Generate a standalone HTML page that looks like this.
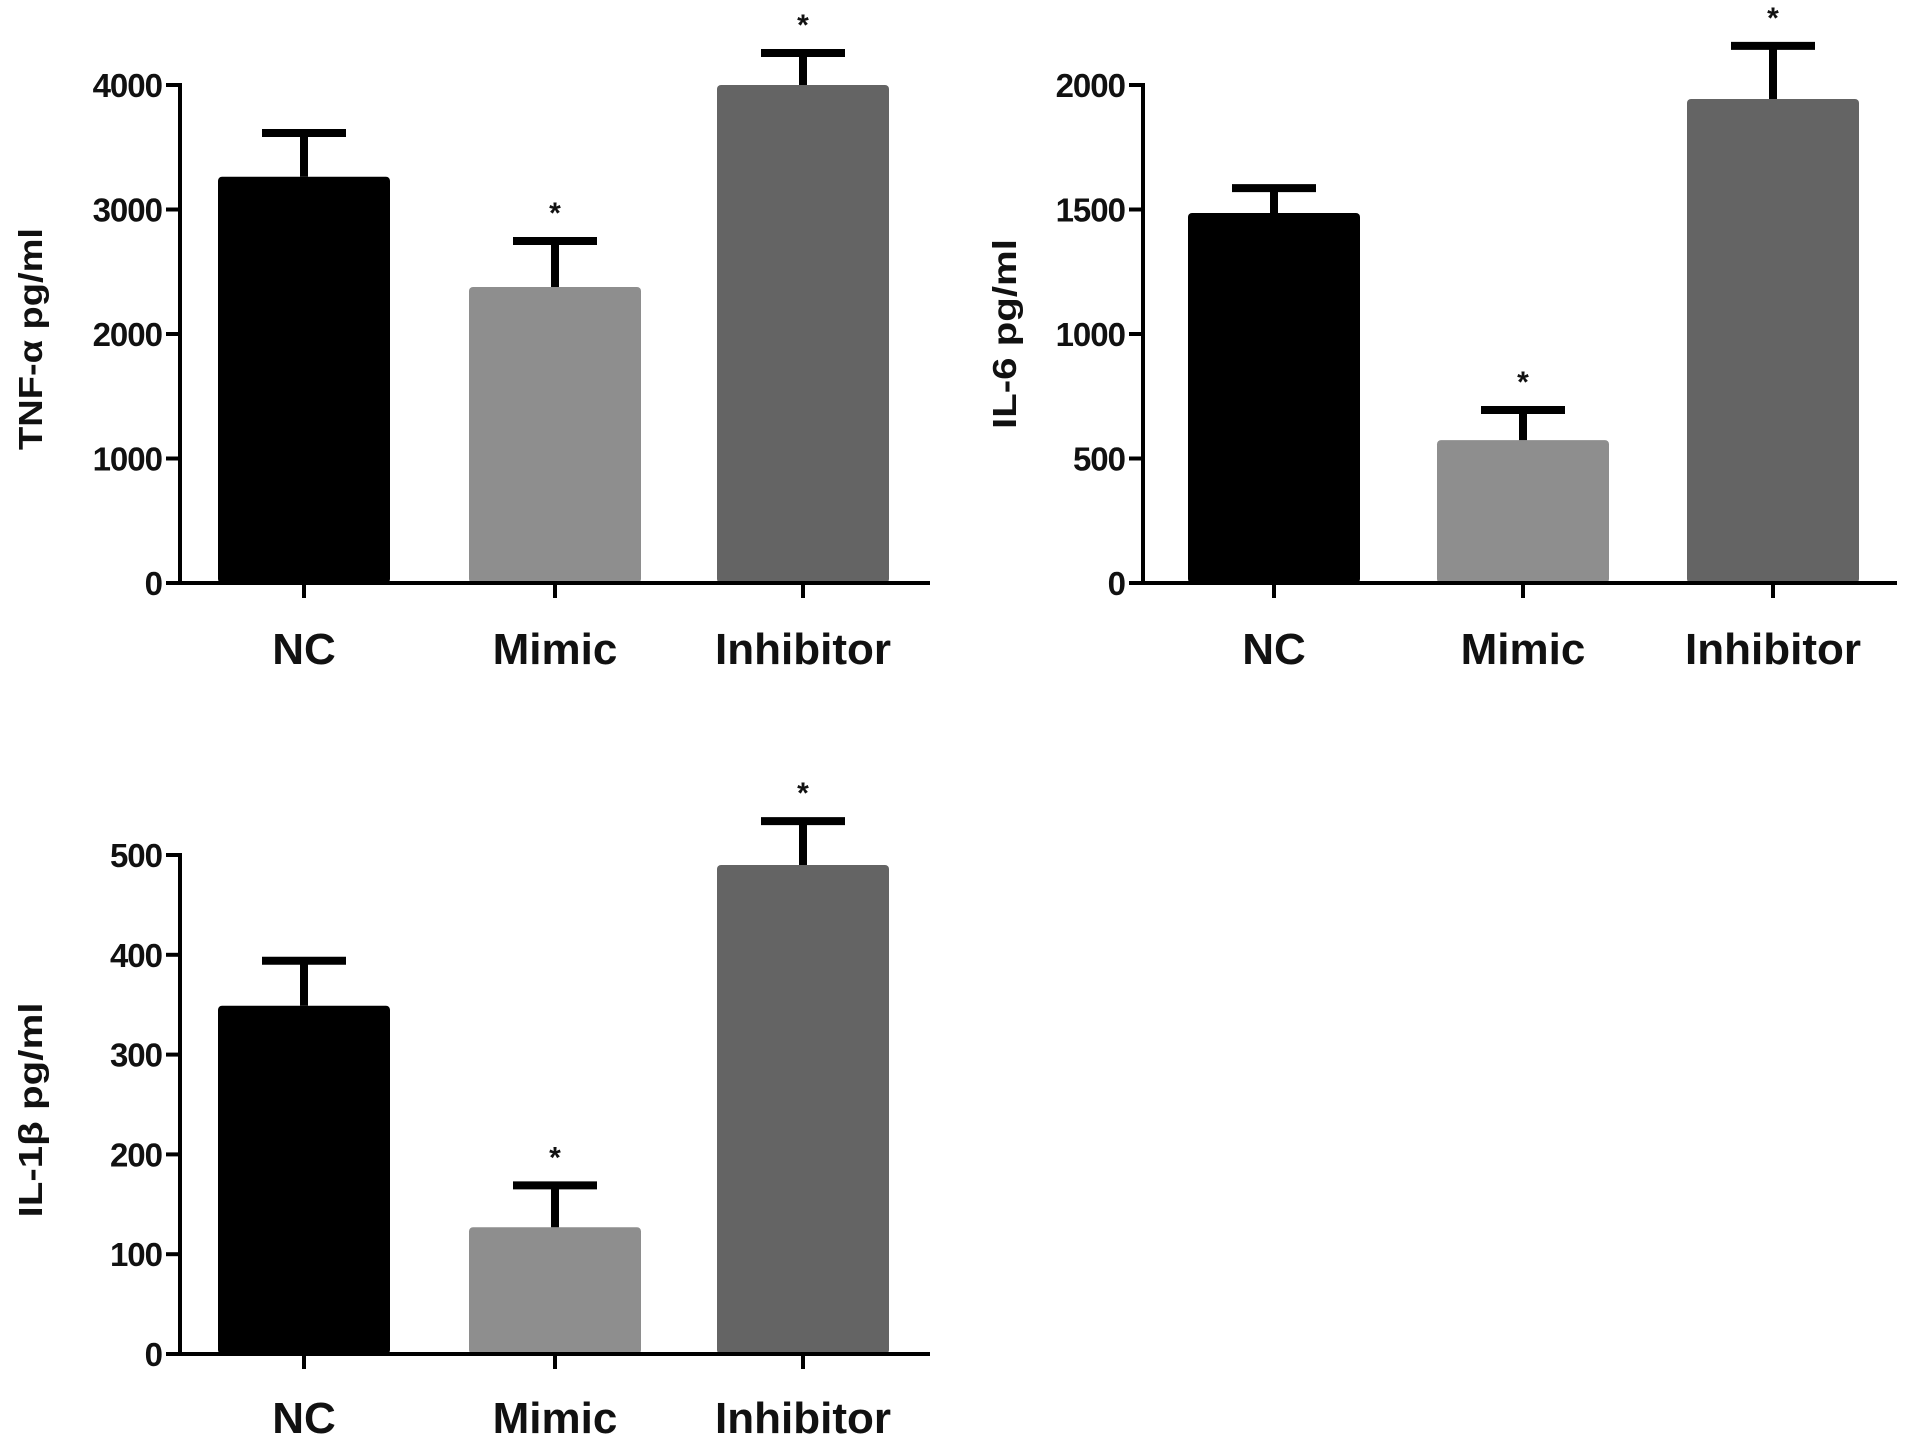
<!DOCTYPE html>
<html><head><meta charset="utf-8"><style>
html,body{margin:0;padding:0;background:#fff;}
svg{display:block;}
text{font-family:"Liberation Sans",Arial,sans-serif;font-weight:bold;fill:#111;}
</style></head><body>
<svg id="chart" width="1913" height="1449" viewBox="0 0 1913 1449" xmlns="http://www.w3.org/2000/svg"></svg>
<script>
const categories = ["NC", "Mimic", "Inhibitor"];
const tnfValues = [3263, 2378, 4000];
const tnfErrors = [351, 369, 257];
const il6Values = [1486, 574, 1944];
const il6Errors = [100, 121, 213];
const il1bValues = [349, 127, 490];
const il1bErrors = [45, 42, 44];
const tnfTicks = [0, 1000, 2000, 3000, 4000];
const il6Ticks = [0, 500, 1000, 1500, 2000];
const il1bTicks = [0, 100, 200, 300, 400, 500];
const significant = [false, true, true];

const barColors = ["#000000", "#8e8e8e", "#646464"];
const NS = "http://www.w3.org/2000/svg";
const svg = document.getElementById("chart");
function mk(tag, attrs, parent) {
  const e = document.createElementNS(NS, tag);
  for (const k in attrs) e.setAttribute(k, attrs[k]);
  (parent || svg).appendChild(e);
  return e;
}

const panels = [
  {key:"tnf", title:"TNF-α pg/ml", vals:tnfValues, errs:tnfErrors, ticks:tnfTicks, max:4000,
   ax:180, y0:583, yTop:85, xEnd:930, cats:[304,555,803], titleX:42, titleY:339, titleLen:222, labelY:664},
  {key:"il6", title:"IL-6 pg/ml", vals:il6Values, errs:il6Errors, ticks:il6Ticks, max:2000,
   ax:1143, y0:583, yTop:85, xEnd:1897, cats:[1274,1523,1773], titleX:1016, titleY:334, titleLen:190, labelY:664},
  {key:"il1b", title:"IL-1β pg/ml", vals:il1bValues, errs:il1bErrors, ticks:il1bTicks, max:500,
   ax:180, y0:1354, yTop:855, xEnd:930, cats:[304,555,803], titleX:42, titleY:1110, titleLen:215, labelY:1433}
];

panels.forEach(p => {
  const g = mk("g", {});
  
  
  const yScale = v => p.y0 - (v / p.max) * (p.y0 - p.yTop);
  const bw = 172;
  p.vals.forEach((v, i) => {
    const cx = p.cats[i];
    const top = yScale(v);
    const r = mk("rect", {x:cx - bw/2, y:top, width:bw, height:p.y0 - top, rx:4, fill:barColors[i]}, g);
    
    
    const ey = yScale(v + p.errs[i]);
    const eb = mk("path", {d:`M${cx} ${top} V${ey} M${cx-42} ${ey} H${cx+42}`, stroke:"#000", "stroke-width":8, fill:"none"}, g);
    
    
    if (significant[i]) {
      const s = mk("text", {x:cx, y:ey - 18, "text-anchor":"middle", "font-size":30}, g);
      s.textContent = "*";
      
      
    }
    const tk = mk("line", {x1:cx, y1:p.y0, x2:cx, y2:p.y0 + 15, stroke:"#000", "stroke-width":4}, g);
    
    
    const lb = mk("text", {x:cx, y:p.labelY, "text-anchor":"middle", "font-size":44}, g);
    lb.textContent = categories[i];
    
    
  });
  const ya = mk("line", {x1:p.ax, y1:p.yTop - 2, x2:p.ax, y2:p.y0 + 2, stroke:"#000", "stroke-width":4}, g);
  
  
  const xa = mk("line", {x1:p.ax - 14, y1:p.y0, x2:p.xEnd, y2:p.y0, stroke:"#000", "stroke-width":4}, g);
  
  
  p.ticks.forEach(t => {
    const y = yScale(t);
    const tl = mk("line", {x1:p.ax - 14, y1:y, x2:p.ax, y2:y, stroke:"#000", "stroke-width":4}, g);
    
    
    const tt = mk("text", {x:p.ax - 18, y:y + 12, "text-anchor":"end", "font-size":33, "letter-spacing":-1}, g);
    tt.textContent = String(t);
    
    
  });
  const ti = mk("text", {x:0, y:0, "text-anchor":"middle", "font-size":33, textLength:p.titleLen, lengthAdjust:"spacingAndGlyphs",
    transform:`translate(${p.titleX},${p.titleY}) rotate(-90)`}, g);
  ti.textContent = p.title;
  
  
});
</script>
</body></html>
